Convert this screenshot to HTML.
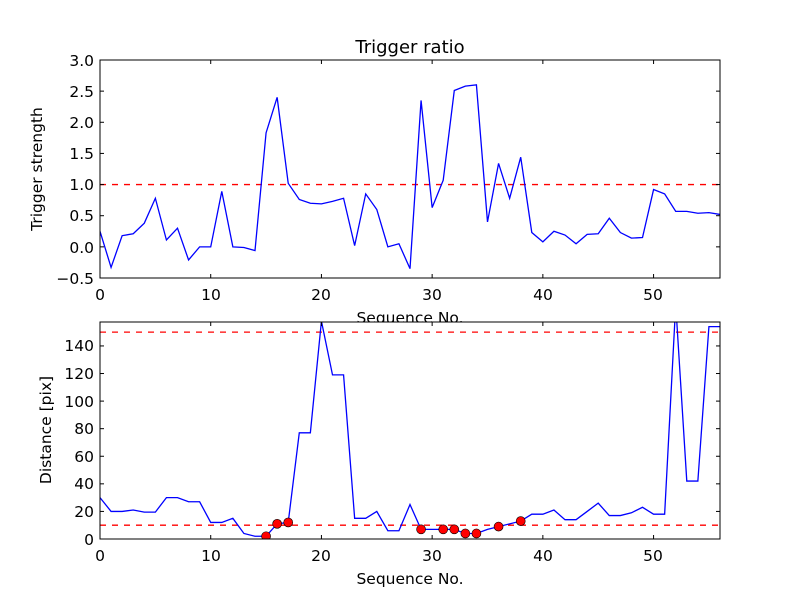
<!DOCTYPE html>
<html><head><meta charset="utf-8"><style>
body{margin:0;background:#fff}
svg text{font-family:"DejaVu Sans","Liberation Sans",sans-serif;fill:#000}
</style></head><body>
<svg width="800" height="600" xmlns="http://www.w3.org/2000/svg">
<rect width="800" height="600" fill="#fff"/>
<defs>
<clipPath id="c1"><rect x="100" y="60" width="620" height="218"/></clipPath>
<clipPath id="c2"><rect x="100" y="322" width="620" height="217"/></clipPath>
</defs>
<text x="410" y="53" font-size="18" text-anchor="middle">Trigger ratio</text>
<g font-size="15.5" text-anchor="end">
<text x="94" y="66">3.0</text><text x="94" y="97">2.5</text><text x="94" y="128">2.0</text>
<text x="94" y="159">1.5</text><text x="94" y="190">1.0</text><text x="94" y="221">0.5</text>
<text x="94" y="253">0.0</text><text x="94" y="284">−0.5</text>
<text x="94" y="545">0</text><text x="94" y="517">20</text><text x="94" y="489">40</text>
<text x="94" y="462">60</text><text x="94" y="434">80</text><text x="94" y="407">100</text>
<text x="94" y="379">120</text><text x="94" y="351">140</text>
</g>
<g font-size="15.5" text-anchor="middle">
<text x="100" y="300">0</text><text x="211" y="300">10</text><text x="321" y="300">20</text>
<text x="432" y="300">30</text><text x="543" y="300">40</text><text x="653" y="300">50</text>
<text x="100" y="561">0</text><text x="211" y="561">10</text><text x="321" y="561">20</text>
<text x="432" y="561">30</text><text x="543" y="561">40</text><text x="653" y="561">50</text>
<text x="410" y="323">Sequence No.</text>
<text x="410" y="584">Sequence No.</text>
<text transform="translate(42,169) rotate(-90)">Trigger strength</text>
<text transform="translate(51,430) rotate(-90)">Distance [pix]</text>
</g>
<rect x="100" y="322" width="620" height="217" fill="#fff"/>
<g id="plots"></g>
<rect x="100" y="60" width="620" height="218" fill="none" stroke="#000" stroke-width="1"/>
<rect x="100" y="322" width="620" height="217" fill="none" stroke="#000" stroke-width="1"/>
<g id="ticks" stroke="#000" stroke-width="1"></g>
</svg>
<script>
var T=[0.25,-0.33,0.18,0.21,0.38,0.78,0.11,0.30,-0.21,0.0,0.0,0.89,0.0,-0.01,-0.06,1.83,2.40,1.02,0.76,0.70,0.69,0.73,0.78,0.02,0.85,0.60,0.0,0.05,-0.35,2.35,0.63,1.07,2.51,2.58,2.60,0.40,1.34,0.78,1.44,0.23,0.08,0.25,0.19,0.05,0.20,0.21,0.46,0.23,0.14,0.15,0.92,0.85,0.57,0.57,0.54,0.55,0.52];
var B=[30,20,20,21,19.5,19.5,30,30,27,27,12,12,15,4,2,2,11,12,77,77,158,119,119,15,15,20,6,6,25,7,7,7,7,4,4,7,9,11,13,18,18,21,14,14,20,26,17,17,19,23,18,18,170,42,42,154,154];
var dots=[15,16,17,29,31,32,33,34,36,38];
function X(i){return 100+i*620/56}
function YT(v){return 278-(v+0.5)*62.29}
function YB(v){return 539-v*1.379}
var ns="http://www.w3.org/2000/svg",g=document.getElementById("plots");
function el(n,a,p){var e=document.createElementNS(ns,n);for(var k in a)e.setAttribute(k,a[k]);(p||g).appendChild(e);return e}
el("line",{x1:100,x2:720,y1:YT(1),y2:YT(1),stroke:"red","stroke-width":1.3,"stroke-dasharray":"6,6"});
el("polyline",{points:T.map(function(v,i){return X(i)+","+YT(v)}).join(" "),fill:"none",stroke:"blue","stroke-width":1.3,"clip-path":"url(#c1)"});
var g2=el("g",{"clip-path":"url(#c2)"});
el("line",{x1:100,x2:720,y1:YB(10),y2:YB(10),stroke:"red","stroke-width":1.3,"stroke-dasharray":"6,6"},g2);
el("line",{x1:100,x2:720,y1:YB(150),y2:YB(150),stroke:"red","stroke-width":1.3,"stroke-dasharray":"6,6"},g2);
el("polyline",{points:B.map(function(v,i){return X(i)+","+YB(v)}).join(" "),fill:"none",stroke:"blue","stroke-width":1.3},g2);
dots.forEach(function(i){el("circle",{cx:X(i),cy:YB(B[i]),r:4.5,fill:"red",stroke:"#000","stroke-width":0.6},g2)});
var t=document.getElementById("ticks");
for(var i=0;i<=50;i+=10){var x=X(i);
[[60,278],[322,539]].forEach(function(r){el("line",{x1:x,x2:x,y1:r[0],y2:r[0]+4},t);el("line",{x1:x,x2:x,y1:r[1],y2:r[1]-4},t)});}
for(var v=-0.5;v<=3.01;v+=0.5){var y=YT(v);el("line",{x1:100,x2:104,y1:y,y2:y},t);el("line",{x1:716,x2:720,y1:y,y2:y},t)}
for(var v=0;v<=140;v+=20){var y=YB(v);el("line",{x1:100,x2:104,y1:y,y2:y},t);el("line",{x1:716,x2:720,y1:y,y2:y},t)}
</script>
</body></html>
